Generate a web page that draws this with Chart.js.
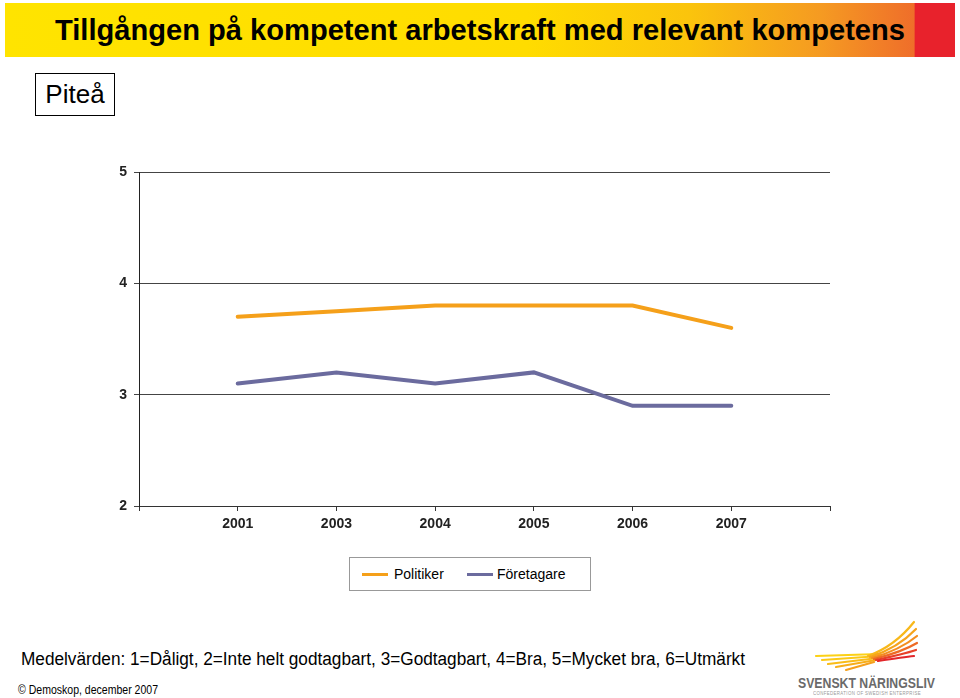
<!DOCTYPE html>
<html lang="sv">
<head>
<meta charset="UTF-8" />
<title>Tillgången på kompetent arbetskraft</title>
<style>
  body { margin: 0; width: 960px; height: 698px; position: relative; background: #fff; font-family: "Liberation Sans", Arial, sans-serif; overflow: hidden; }
  #banner { position: absolute; left: 5px; top: 3px; width: 950px; height: 54px;
    background: linear-gradient(to right, #ffe400 0%, #ffdc00 55%, #fbc40c 72%, #f59a22 86%, #ef6e2a 95.7%, #e8222c 95.8%, #e8222c 100%); }
  .fit { position: absolute; white-space: nowrap; transform-origin: 0 0; }
  #title { left: 55px; top: 13px; font-size: 30px; font-weight: bold; color: #000; }
  #place { position: absolute; left: 35px; top: 73px; width: 78px; height: 41px; border: 1px solid #000; font-size: 26px; line-height: 41px; text-align: center; }
  #wrap { position: absolute; left: 0; top: 150px; width: 960px; height: 400px; }
  #legend { position: absolute; left: 349px; top: 557px; width: 240px; height: 32px; border: 1px solid #999; font-size: 14px; }
  #legend span { position: absolute; top: 8px; }
  #legend i { position: absolute; top: 15px; height: 3px; width: 26px; }
  #note { left: 21px; top: 649px; font-size: 18px; }
  #copy { left: 18px; top: 683px; font-size: 12px; }
  #logo1 { left: 798px; top: 674px; font-size: 15px; font-weight: bold; color: #6a6a6a; }
  #logo2 { left: 813px; top: 690px; font-size: 5px; color: #999; letter-spacing: 0.4px; }
</style>
</head>
<body>
<div id="banner"></div>
<div id="title" class="fit" data-w="850">Tillgången på kompetent arbetskraft med relevant kompetens</div>
<div id="place">Piteå</div>

<div id="wrap"><canvas id="chart"></canvas></div>

<div id="legend">
  <i style="left:12px;background:#f5a01a"></i><span style="left:44px">Politiker</span>
  <i style="left:117px;background:#6b6b9e"></i><span style="left:147px">Företagare</span>
</div>

<div id="note" class="fit" data-w="724">Medelvärden: 1=Dåligt, 2=Inte helt godtagbart, 3=Godtagbart, 4=Bra, 5=Mycket bra, 6=Utmärkt</div>
<div id="copy" class="fit" data-w="140">© Demoskop, december 2007</div>

<svg style="position:absolute;left:810px;top:616px" width="112" height="56">
  <g stroke-linecap="round" fill="none" stroke-width="2.2">
    <path d="M6 40 L70 38" stroke="#fcd116"/>
    <path d="M12 44 L70 40" stroke="#fbc916"/>
    <path d="M18 48 L68 42" stroke="#f9bc18"/>
    <path d="M26 51 L66 44" stroke="#f7ae1a"/>
    <path d="M36 54 L64 46" stroke="#f5a01c"/>
    <path d="M58 40 Q85 30 104 6" stroke="#f8b81a"/>
    <path d="M60 41 Q88 32 106 13" stroke="#f6a41c"/>
    <path d="M62 42 Q90 34 107 20" stroke="#f38e20"/>
    <path d="M64 43 Q92 36 107 27" stroke="#ee6a24"/>
    <path d="M66 44 Q94 38 106 34" stroke="#e84028"/>
    <path d="M68 45 Q94 41 104 40" stroke="#e2262a"/>
  </g>
</svg>
<div id="logo1" class="fit" data-w="137">SVENSKT NÄRINGSLIV</div>
<div id="logo2" class="fit" data-w="108">CONFEDERATION OF SWEDISH ENTERPRISE</div>

<script src="https://cdn.jsdelivr.net/npm/chart.js"></script>
<script>
// squeeze text blocks to the widths seen in the original
document.querySelectorAll('.fit').forEach(el => {
  const w = el.getBoundingClientRect().width;
  el.style.transform = 'scaleX(' + (parseFloat(el.dataset.w) / w) + ')';
});

// år (tomma platser i början och slutet som i originalet)
const years = ['', '2001', '2003', '2004', '2005', '2006', '2007', ''];
const politiker = [null, 3.7, 3.75, 3.8, 3.8, 3.8, 3.6, null];
const foretagare = [null, 3.1, 3.2, 3.1, 3.2, 2.9, 2.9, null];

const ctx = document.getElementById('chart').getContext('2d');
new Chart(ctx, {
  type: 'line',
  data: {
    labels: years,
    datasets: [
      { label: 'Politiker', data: politiker, borderColor: '#f5a01a', borderWidth: 4, pointRadius: 0, tension: 0, borderCapStyle: 'round' },
      { label: 'Företagare', data: foretagare, borderColor: '#6b6b9e', borderWidth: 4, pointRadius: 0, tension: 0, borderCapStyle: 'round' }
    ]
  },
  options: {
    responsive: true,
    maintainAspectRatio: false,
    animation: false,
    layout: { padding: { top: 22, right: 130, left: 0, bottom: 0 } },
    plugins: { legend: { display: false }, tooltip: { enabled: false } },
    scales: {
      x: {
        offset: false,
        grid: { display: true, drawOnChartArea: false, color: '#333', tickLength: 5 },
        border: { color: '#333', width: 1 },
        ticks: { color: '#222', font: { family: 'Liberation Sans', size: 14, weight: 'bold' }, padding: 5, maxRotation: 0, autoSkip: false },
        afterFit: s => { s.height = 44; }
      },
      y: {
        min: 2, max: 5,
        ticks: { stepSize: 1, color: '#222', font: { family: 'Liberation Sans', size: 14, weight: 'bold' }, padding: 7 },
        grid: { color: '#444', lineWidth: 1, tickLength: 5 },
        border: { color: '#222', width: 1 },
        afterFit: s => { s.width = 139; }
      }
    }
  }
});
</script>
</body>
</html>
